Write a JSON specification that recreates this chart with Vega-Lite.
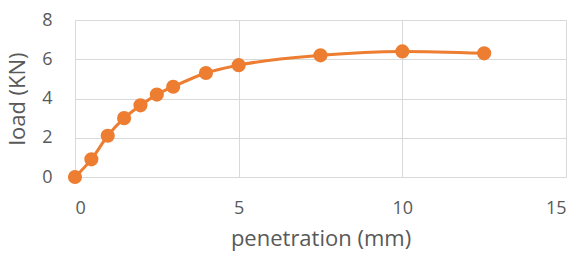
{
  "$schema": "https://vega.github.io/schema/vega-lite/v6.json",
  "width": 491,
  "height": 157,
  "autosize": {"type": "none"},
  "padding": {"left": 75, "top": 20, "right": 13, "bottom": 88},
  "background": "white",
  "config": {"view": {"stroke": null}, "font": "Open Sans"},
  "data": {"values": [
    {"penetration": 0, "load": 0},
    {"penetration": 0.5, "load": 0.9},
    {"penetration": 1, "load": 2.1},
    {"penetration": 1.5, "load": 3.0},
    {"penetration": 2, "load": 3.65},
    {"penetration": 2.5, "load": 4.2},
    {"penetration": 3, "load": 4.6},
    {"penetration": 4, "load": 5.3},
    {"penetration": 5, "load": 5.7},
    {"penetration": 7.5, "load": 6.2},
    {"penetration": 10, "load": 6.4},
    {"penetration": 12.5, "load": 6.3}
  ]},
  "encoding": {
    "x": {"field": "penetration", "type": "quantitative",
      "scale": {"domain": [0, 15], "nice": false, "zero": true},
      "axis": {"values": [0, 5, 10, 15], "title": "penetration (mm)", "domain": false, "ticks": false,
        "grid": true, "gridColor": "#D9D9D9", "gridWidth": 1,
        "labelFontSize": 18, "labelColor": "#595959", "labelPadding": 22, "labelFont": "Open Sans",
        "titleFontSize": 22, "titleColor": "#595959", "titleFontWeight": "normal", "titlePadding": 11, "titleFont": "Open Sans"}},
    "y": {"field": "load", "type": "quantitative",
      "scale": {"domain": [0, 8], "nice": false},
      "axis": {"values": [0, 2, 4, 6, 8], "title": "load (KN)", "domain": false, "ticks": false,
        "grid": true, "gridColor": "#D9D9D9", "gridWidth": 1,
        "labelFontSize": 18, "labelColor": "#595959", "labelPadding": 23, "labelFont": "Open Sans",
        "titleFontSize": 22, "titleColor": "#595959", "titleFontWeight": "normal", "titlePadding": 12, "titleFont": "Open Sans"}}
  },
  "layer": [
    {"mark": {"type": "line", "color": "#ED7D31", "strokeWidth": 3, "interpolate": "monotone"}},
    {"mark": {"type": "point", "filled": true, "color": "#ED7D31", "size": 200, "opacity": 1}}
  ]
}
